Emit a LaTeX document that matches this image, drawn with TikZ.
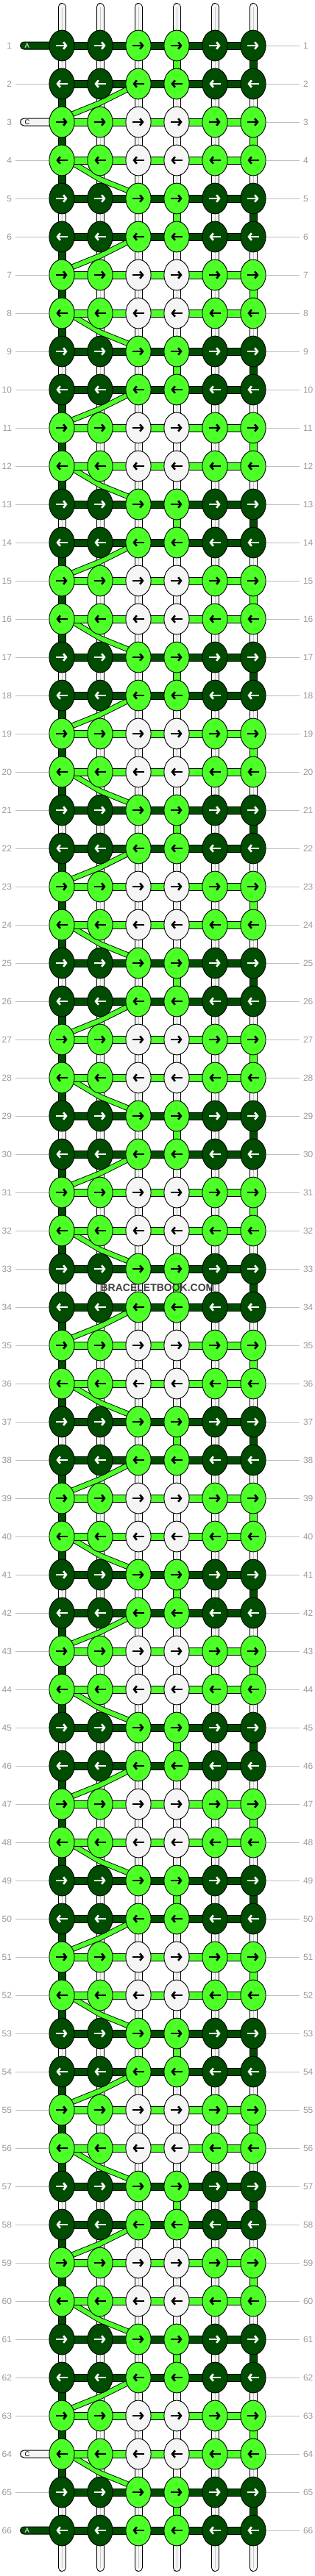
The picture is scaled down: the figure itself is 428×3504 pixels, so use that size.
\documentclass[tikz,border=0pt]{standalone}
\usepackage{fontspec}
\setmainfont{Liberation Sans}
\usetikzlibrary{calc,shapes.geometric,arrows.meta,backgrounds}

\definecolor{strdark}{HTML}{004C00}
\definecolor{strlime}{HTML}{4CFF26}
\definecolor{strwhite}{HTML}{F5F5F5}
\definecolor{guidegray}{HTML}{BEBEBE}
\definecolor{numgray}{HTML}{9A9A9A}
\definecolor{shinegray}{HTML}{C8C8C8}
\definecolor{markgray}{HTML}{404040}

\tikzset{
    knot/.style={ellipse, draw=black, line width=0.9pt, minimum width=34.2pt, minimum height=41.8pt, inner sep=0pt},
    knotarrow/.style 2 args={path picture={
        \draw[line width=2.6pt, #2, -{Straight Barb[length=3.8pt,width=9.5pt]}]
            ([xshift=#1*-8pt]path picture bounding box.center) --
            ([xshift=#1*7.6pt]path picture bounding box.center);}},
    strand/.style={double=#1, double distance=9pt, line width=1pt},
    stub/.style={strand=strwhite, line cap=round},
    shine/.style={shinegray, line width=0.8pt},
    swap/.style={double=strlime, double distance=6pt, line width=0.9pt, line join=round},
    tail/.style={rectangle, rounded corners=5pt, draw=black, line width=1pt, fill=#1, minimum width=57pt, minimum height=10pt, inner ysep=0pt, inner xsep=5pt, text width=45pt, align=left, font=\fontsize{9.5pt}{10pt}\selectfont},
    rownum/.style={text=numgray, inner sep=0pt, outer sep=5pt, font=\fontsize{12pt}{14pt}\selectfont},
    guide/.style={guidegray, line width=1pt},
}

\begin{document}
\begin{tikzpicture}[x=1pt, y=-1pt]
    \useasboundingbox (0,0) rectangle (428,3504);

    % Loose ends of the working strings
    \node[tail=strdark, text=white, anchor=west] (tail-1) at (27,62) {A};
    \node[tail=strwhite, anchor=west] (tail-3) at (27,166) {C};
    \node[tail=strwhite, anchor=west] (tail-64) at (27,3338) {C};
    \node[tail=strdark, text=white, anchor=west] (tail-66) at (27,3442) {A};

    % Knots and row numbers
    \foreach \r in {1,...,66}{
        \pgfmathtruncatemacro{\t}{mod(\r-1,4)}
        \pgfmathtruncatemacro{\ypos}{10+52*\r}
        \ifnum\t<2 \def\outerc{strdark}\def\innerc{strlime}\else\def\outerc{strlime}\def\innerc{strwhite}\fi
        \ifodd\r \def\s{1}\else\def\s{-1}\fi
        \node[rownum, anchor=east] (ln-\r) at (21,\ypos) {\r};
        \node[rownum, anchor=west] (rn-\r) at (407,\ypos) {\r};
        \foreach \c in {1,...,6}{
            \ifnum\c=3 \edef\kc{\innerc}\else\ifnum\c=4 \edef\kc{\innerc}\else\edef\kc{\outerc}\fi\fi
            \def\dk{strdark}
            \ifx\kc\dk \def\ac{white}\else\def\ac{black}\fi
            \node[knot, fill=\kc, knotarrow={\s}{\ac}] (k-\r-\c) at (32+52*\c,\ypos) {};
        }
    }

    % Guide lines to the row numbers
    \foreach \r in {1,...,66}
        \draw[guide] (k-\r-6) -- (rn-\r);
    \foreach \r in {2,4,5,...,63,65}
        \draw[guide] (ln-\r) -- (k-\r-1);

    \begin{scope}[on background layer]
        % Top and bottom ends
        \foreach \c in {1,...,6}{
            \coordinate (top-\c) at (32+52*\c,9.5);
            \coordinate (bot-\c) at (32+52*\c,3492.5);
            \draw[stub] (top-\c) -- (k-1-\c.center);
            \draw[shine] (top-\c) -- (k-1-\c.center);
            \draw[stub] (k-66-\c.center) -- (bot-\c);
            \draw[shine] (k-66-\c.center) -- (bot-\c);
        }

        % Strings hanging between rows
        \foreach \g in {1,...,65}{
            \pgfmathtruncatemacro{\n}{\g+1}
            \pgfmathtruncatemacro{\t}{mod(\g,4)}
            \foreach \c in {1,...,6}{
                \def\vc{strwhite}
                \ifnum\c=1 \ifnum\t=1 \else\def\vc{strdark}\fi\fi
                \ifnum\t=1 \ifnum\c=4 \def\vc{strlime}\fi \ifnum\c=6 \def\vc{strdark}\fi\fi
                \ifnum\t=3 \ifnum\c=6 \def\vc{strlime}\fi\fi
                \draw[strand=\vc] (k-\g-\c.center) -- (k-\n-\c.center);
                \def\wt{strwhite}
                \ifx\vc\wt \draw[shine] (k-\g-\c.center) -- (k-\n-\c.center);\fi
            }
        }

        % Strings changing place
        \foreach \g in {2,4,...,64}{
            \pgfmathtruncatemacro{\n}{\g+1}
            \pgfmathtruncatemacro{\t}{mod(\g,4)}
            \ifnum\t=2
                \draw[swap] (k-\g-3.center) -- ($(k-\g-2)!0.5!(k-\n-2)$) -- ([yshift=5pt]k-\n-1.center);
            \else
                \draw[swap] ([yshift=5pt]k-\g-1.center) -- ($(k-\g-2)!0.5!(k-\n-2)$) -- ([yshift=5pt]k-\n-3.center);
            \fi
        }

        % Working strings
        \foreach \r in {1,...,66}{
            \pgfmathtruncatemacro{\t}{mod(\r-1,4)}
            \ifnum\t<2 \def\hc{strdark}\else\def\hc{strlime}\fi
            \draw[strand=\hc] (k-\r-1.center) -- (k-\r-6.center);
        }
    \end{scope}

    % Watermark
    \node[font=\bfseries\fontsize{14pt}{16pt}\selectfont, text=markgray] (mark) at (214,1752) {BRACELETBOOK.COM};
\end{tikzpicture}
\end{document}
